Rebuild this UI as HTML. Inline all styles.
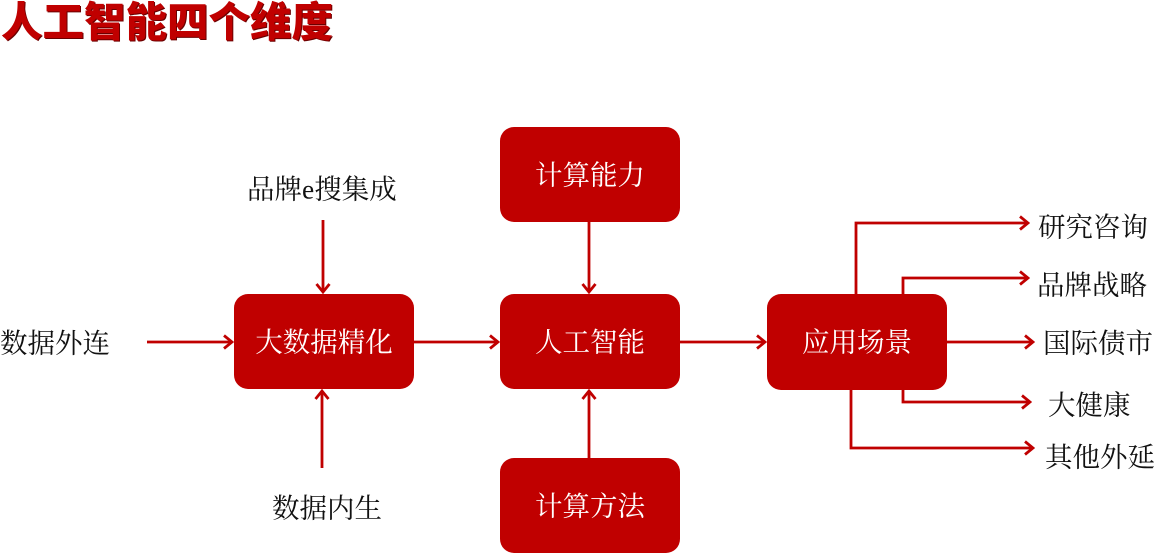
<!DOCTYPE html>
<html><head><meta charset="utf-8"><style>
html,body{margin:0;padding:0;background:#fff;}
svg{display:block;}
.t{font-family:"Liberation Serif","Noto Serif CJK SC",serif;font-size:27.5px;fill:#111;}
.w{font-family:"Liberation Serif","Noto Serif CJK SC",serif;font-size:27.5px;fill:#fff;}
</style></head><body>
<svg width="1154" height="554" viewBox="0 0 1154 554" xmlns="http://www.w3.org/2000/svg">
<defs>
<marker id="a" markerWidth="12" markerHeight="16" refX="10" refY="8" orient="auto" markerUnits="userSpaceOnUse">
<path d="M2,1.5 L10,8 L2,14.5" fill="none" stroke="#c00000" stroke-width="2.8"/>
</marker>
</defs>
<text x="1" y="22" dominant-baseline="central" style="font-family:'Liberation Sans','Noto Sans CJK SC',sans-serif;font-weight:900;font-size:41.5px;fill:#6a0000" transform="translate(1,1)">人工智能四个维度</text>
<text x="1" y="22" dominant-baseline="central" style="font-family:'Liberation Sans','Noto Sans CJK SC',sans-serif;font-weight:900;font-size:41.5px;fill:#c00000">人工智能四个维度</text>

<g fill="#c00000">
<rect x="234" y="294" width="180" height="95" rx="14"/>
<rect x="500" y="127" width="180" height="95" rx="14"/>
<rect x="500" y="294" width="180" height="95" rx="14"/>
<rect x="500" y="458" width="180" height="95" rx="14"/>
<rect x="767" y="294" width="180" height="96" rx="14"/>
</g>

<g stroke="#c00000" stroke-width="2.8" fill="none" marker-end="url(#a)">
<line x1="147" y1="342" x2="232" y2="342"/>
<line x1="323" y1="220" x2="323" y2="292"/>
<line x1="322" y1="468" x2="322" y2="391"/>
<line x1="414" y1="342" x2="498" y2="342"/>
<line x1="589" y1="222" x2="589" y2="292"/>
<line x1="589" y1="458" x2="589" y2="391"/>
<line x1="680" y1="342" x2="765" y2="342"/>
<polyline points="856,294 856,223 1028,223"/>
<polyline points="903,294 903,278 1028,278"/>
<line x1="947" y1="342" x2="1033" y2="342"/>
<polyline points="903,390 903,402 1030,402"/>
<polyline points="851,390 851,448 1033,448"/>
</g>

<g class="w" text-anchor="middle" dominant-baseline="central">
<text x="324" y="342">大数据精化</text>
<text x="590" y="175">计算能力</text>
<text x="590" y="342">人工智能</text>
<text x="590" y="506">计算方法</text>
<text x="857" y="342">应用场景</text>
</g>

<g class="t" dominant-baseline="central">
<text x="0" y="343">数据外连</text>
<text x="272" y="508">数据内生</text>
<text x="247" y="189">品牌e搜集成</text>
<text x="1038" y="227">研究咨询</text>
<text x="1037" y="285">品牌战略</text>
<text x="1043" y="343">国际债市</text>
<text x="1048" y="405">大健康</text>
<text x="1045" y="457">其他外延</text>
</g>
</svg>
</body></html>
